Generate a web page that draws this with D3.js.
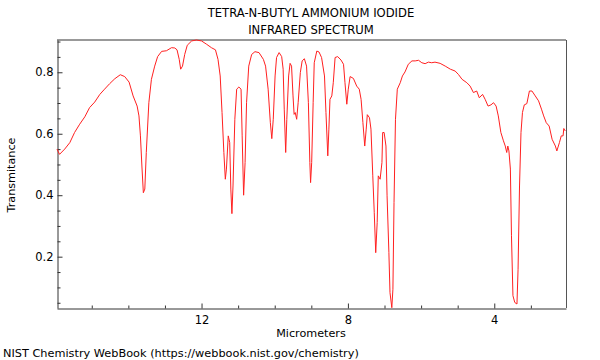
<!DOCTYPE html>
<html>
<head>
<meta charset="utf-8">
<script src="https://cdn.jsdelivr.net/npm/d3@7"></script>
<style>
  html, body { margin: 0; padding: 0; background: #fff; }
  svg { display: block; font-family: "DejaVu Sans", sans-serif; }
</style>
</head>
<body>
<svg id="chart" width="600" height="360"></svg>
<script>
// ---- data (micrometers, transmittance) ----
const wavelength = [
  15.95, 15.88, 15.74, 15.6, 15.47, 15.33, 15.19, 15.06, 14.92, 14.78, 14.65, 14.51, 14.37, 14.22, 14.10,
  13.98, 13.87, 13.76, 13.71, 13.67, 13.63, 13.59, 13.55, 13.51, 13.44, 13.37, 13.28, 13.20, 13.09, 12.96,
  12.82, 12.73, 12.67, 12.61, 12.57, 12.52, 12.46, 12.39, 12.27, 12.14, 12.0, 11.86, 11.73, 11.62, 11.55,
  11.49, 11.44, 11.39, 11.35, 11.32, 11.27, 11.23, 11.2, 11.17, 11.14, 11.09, 11.04, 10.98, 10.92, 10.89,
  10.85, 10.81, 10.77, 10.71, 10.63, 10.54, 10.43, 10.31, 10.25, 10.18, 10.12, 10.08, 10.04, 9.99, 9.95,
  9.88, 9.81, 9.77, 9.74, 9.70, 9.67, 9.62, 9.58, 9.54, 9.50, 9.47, 9.44, 9.40, 9.36, 9.30,
  9.25, 9.19, 9.13, 9.08, 9.04, 9.02, 8.99, 8.95, 8.92, 8.85, 8.79, 8.72, 8.64, 8.60, 8.55,
  8.52, 8.49, 8.44, 8.40, 8.35, 8.28, 8.19, 8.12, 8.08, 8.03, 7.99, 7.94, 7.85, 7.76, 7.69,
  7.64, 7.59, 7.54, 7.50, 7.47, 7.41, 7.37, 7.32, 7.28, 7.24, 7.20, 7.17, 7.12, 7.07, 7.05,
  7.01, 6.96, 6.93, 6.88, 6.85, 6.80, 6.77, 6.74, 6.70, 6.65, 6.57, 6.51, 6.44, 6.35, 6.25,
  6.16, 6.07, 5.98, 5.89, 5.80, 5.71, 5.62, 5.48, 5.34, 5.20, 5.07, 4.98, 4.88, 4.75, 4.66,
  4.57, 4.48, 4.41, 4.32, 4.25, 4.17, 4.09, 4.02, 3.95, 3.89, 3.82, 3.75, 3.70, 3.66, 3.63,
  3.60, 3.56, 3.53, 3.49, 3.44, 3.38, 3.35, 3.31, 3.27, 3.23, 3.18, 3.11, 3.04, 2.97, 2.88,
  2.79, 2.71, 2.65, 2.58, 2.50, 2.42, 2.33, 2.29, 2.22, 2.17, 2.12, 2.10, 2.06
];
const transmittance = [
  0.550, 0.533, 0.550, 0.571, 0.604, 0.631, 0.655, 0.685, 0.703, 0.728, 0.745, 0.763, 0.779, 0.792, 0.786,
  0.768, 0.723, 0.690, 0.658, 0.593, 0.495, 0.408, 0.420, 0.539, 0.701, 0.777, 0.820, 0.851, 0.868, 0.870,
  0.880, 0.879, 0.873, 0.842, 0.810, 0.820, 0.858, 0.888, 0.902, 0.905, 0.902, 0.891, 0.880, 0.873, 0.842,
  0.788, 0.669, 0.539, 0.452, 0.485, 0.593, 0.571, 0.420, 0.340, 0.430, 0.647, 0.745, 0.752, 0.745, 0.593,
  0.400, 0.506, 0.701, 0.820, 0.858, 0.867, 0.864, 0.842, 0.820, 0.745, 0.636, 0.584, 0.647, 0.788, 0.848,
  0.864, 0.851, 0.810, 0.680, 0.539, 0.647, 0.788, 0.829, 0.820, 0.723, 0.663, 0.669, 0.647, 0.701, 0.799,
  0.837, 0.844, 0.820, 0.701, 0.506, 0.441, 0.506, 0.701, 0.831, 0.869, 0.866, 0.848, 0.788, 0.669, 0.528,
  0.615, 0.712, 0.723, 0.766, 0.848, 0.851, 0.840, 0.826, 0.766, 0.696, 0.745, 0.786, 0.780, 0.755, 0.745,
  0.712, 0.636, 0.560, 0.615, 0.662, 0.652, 0.615, 0.463, 0.343, 0.213, 0.311, 0.463, 0.452, 0.506, 0.604,
  0.604, 0.560, 0.398, 0.213, 0.083, 0.034, 0.094, 0.376, 0.647, 0.745, 0.766, 0.788, 0.801, 0.826, 0.837,
  0.837, 0.839, 0.831, 0.828, 0.833, 0.831, 0.833, 0.829, 0.820, 0.810, 0.804, 0.793, 0.777, 0.766, 0.755,
  0.734, 0.739, 0.717, 0.728, 0.712, 0.690, 0.694, 0.701, 0.690, 0.658, 0.604, 0.577, 0.560, 0.539, 0.560,
  0.544, 0.485, 0.268, 0.073, 0.051, 0.046, 0.159, 0.430, 0.604, 0.669, 0.694, 0.698, 0.739, 0.739, 0.723,
  0.707, 0.680, 0.658, 0.636, 0.625, 0.582, 0.560, 0.544, 0.571, 0.593, 0.593, 0.617, 0.609
];
const xMajorTicks = [12, 8, 4];
const xMinorTicks = [15, 14, 13, 11, 10, 9, 7, 6, 5, 3];
const yMajorTicks = [0.2, 0.4, 0.6, 0.8];
const yMinorTicks = [0.05, 0.1, 0.15, 0.25, 0.3, 0.35, 0.45, 0.5, 0.55, 0.65, 0.7, 0.75, 0.85, 0.9];
const titleLines = ["TETRA-N-BUTYL AMMONIUM IODIDE", "INFRARED SPECTRUM"];
const xLabel = "Micrometers";
const yLabel = "Transmitance";
const footer = "NIST Chemistry WebBook (https://webbook.nist.gov/chemistry)";

// ---- layout ----
const L = 57, R = 566, T = 40, B = 308;
const svg = d3.select("#chart");
const x = d3.scaleLinear().domain([15.95, 2.04]).range([L, R]);
const y = d3.scaleLinear().domain([0.033, 0.905]).range([B, T]);

const fsTick = 11.5, fsLabel = 11.2, fsTitle = 11.6, fsFoot = 11.3;

// frame: top gray, right thin
svg.append("line").attr("x1", L).attr("x2", R).attr("y1", T).attr("y2", T)
  .attr("stroke", "#999").attr("stroke-width", 2);
svg.append("line").attr("x1", R + 0.5).attr("x2", R + 0.5).attr("y1", T).attr("y2", B)
  .attr("stroke", "#555").attr("stroke-width", 1);

// x axis
const xAxis = svg.append("g").attr("transform", `translate(0,${B + 0.5})`);
xAxis.call(d3.axisBottom(x).tickValues(xMajorTicks).tickSize(-5).tickSizeOuter(0).tickPadding(7)
  .tickFormat(d3.format("d")));
xAxis.append("g").selectAll("line").data(xMinorTicks).join("line")
  .attr("x1", d => x(d) + 0.5).attr("x2", d => x(d) + 0.5).attr("y1", 0).attr("y2", -3)
  .attr("stroke", "#333");

// y axis
const yAxis = svg.append("g").attr("transform", `translate(${L + 0.5},0)`);
yAxis.call(d3.axisLeft(y).tickValues(yMajorTicks).tickSize(-5).tickSizeOuter(0).tickPadding(4)
  .tickFormat(d3.format(".1f")));
yAxis.append("g").selectAll("line").data(yMinorTicks).join("line")
  .attr("x1", 0).attr("x2", 3).attr("y1", d => y(d) + 0.5).attr("y2", d => y(d) + 0.5)
  .attr("stroke", "#333");

svg.selectAll(".domain").attr("stroke", "#333");
svg.selectAll(".tick line").attr("stroke", "#333");
svg.selectAll(".tick text").attr("font-size", fsTick).attr("font-family", "DejaVu Sans").attr("fill", "#000");

// spectrum
const pts = wavelength.map((w, i) => [w, transmittance[i]]);
svg.append("path").datum(pts)
  .attr("fill", "none").attr("stroke", "#ff2020").attr("stroke-width", 1)
  .attr("d", d3.line().x(d => x(d[0])).y(d => y(d[1])));

// titles
svg.append("text").attr("x", 311).attr("y", 17).attr("text-anchor", "middle")
  .attr("font-size", fsTitle).text(titleLines[0]);
svg.append("text").attr("x", 311).attr("y", 34).attr("text-anchor", "middle")
  .attr("font-size", fsTitle).text(titleLines[1]);
svg.append("text").attr("x", 311).attr("y", 337).attr("text-anchor", "middle")
  .attr("font-size", fsLabel).text(xLabel);
svg.append("text").attr("transform", "translate(15,175) rotate(-90)").attr("text-anchor", "middle")
  .attr("font-size", fsLabel).text(yLabel);
svg.append("text").attr("x", 3).attr("y", 357).attr("font-size", fsFoot).text(footer);
</script>
</body>
</html>
